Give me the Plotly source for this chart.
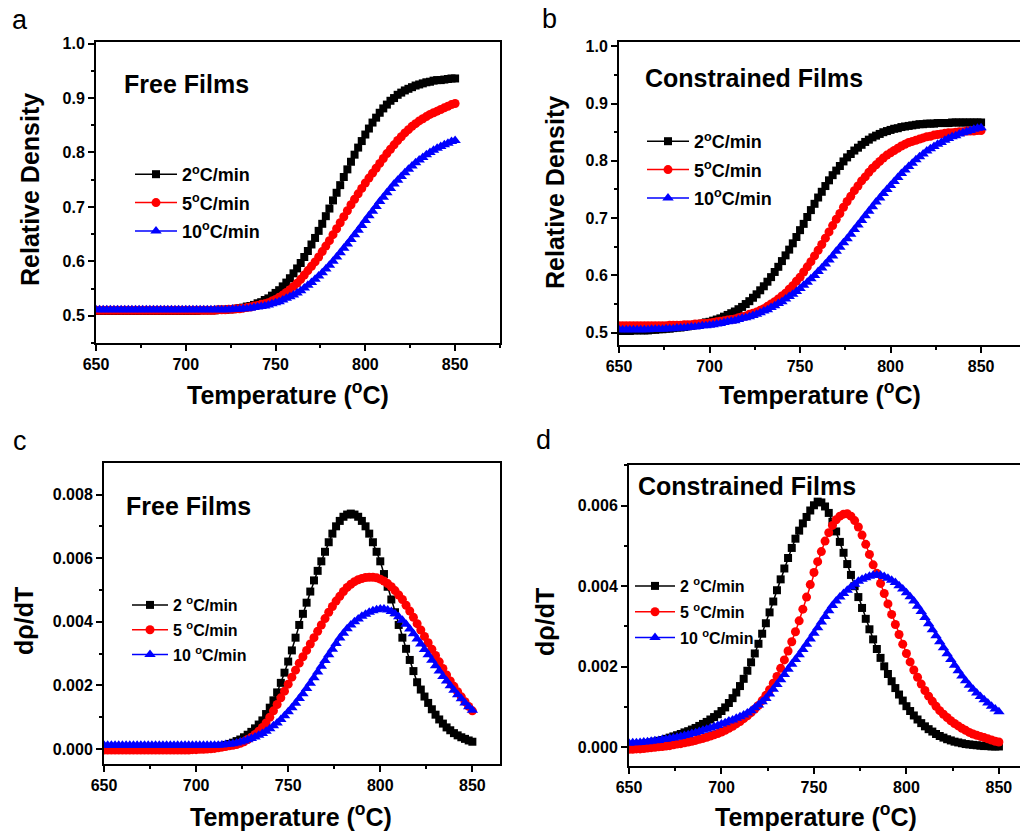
import plotly.graph_objects as go

# Temperature grid (degC), one sample every 2 degrees
TEMPS = list(range(650, 852, 2))

# (a) relative density, free films
A_FREE_2 = [
    0.509, 0.509, 0.509, 0.509, 0.509, 0.509, 0.509, 0.509, 0.509, 0.509,
    0.509, 0.509, 0.509, 0.509, 0.509, 0.509, 0.509, 0.509, 0.509, 0.509,
    0.509, 0.509, 0.509, 0.509, 0.509, 0.509, 0.509, 0.509, 0.509, 0.510,
    0.510, 0.510, 0.510, 0.510, 0.511, 0.511, 0.511, 0.512, 0.512, 0.513,
    0.514, 0.515, 0.517, 0.518, 0.520, 0.523, 0.525, 0.529, 0.532, 0.537,
    0.542, 0.547, 0.554, 0.561, 0.569, 0.578, 0.587, 0.597, 0.608, 0.619,
    0.631, 0.643, 0.656, 0.669, 0.683, 0.697, 0.712, 0.726, 0.740, 0.755,
    0.769, 0.783, 0.796, 0.809, 0.821, 0.833, 0.844, 0.855, 0.864, 0.873,
    0.881, 0.888, 0.895, 0.900, 0.906, 0.910, 0.914, 0.917, 0.920, 0.923,
    0.925, 0.927, 0.929, 0.930, 0.932, 0.933, 0.933, 0.934, 0.935, 0.936,
    0.936,
]
A_FREE_5 = [
    0.510, 0.510, 0.510, 0.510, 0.510, 0.510, 0.510, 0.510, 0.510, 0.510,
    0.510, 0.510, 0.510, 0.510, 0.510, 0.510, 0.510, 0.510, 0.510, 0.510,
    0.510, 0.510, 0.510, 0.510, 0.510, 0.510, 0.510, 0.510, 0.510, 0.510,
    0.510, 0.510, 0.510, 0.510, 0.511, 0.511, 0.511, 0.512, 0.512, 0.513,
    0.513, 0.514, 0.515, 0.516, 0.518, 0.519, 0.521, 0.522, 0.524, 0.527,
    0.530, 0.534, 0.538, 0.543, 0.548, 0.554, 0.560, 0.567, 0.575, 0.583,
    0.591, 0.599, 0.608, 0.618, 0.628, 0.638, 0.649, 0.660, 0.671, 0.682,
    0.693, 0.704, 0.714, 0.724, 0.734, 0.744, 0.753, 0.762, 0.771, 0.780,
    0.789, 0.798, 0.806, 0.814, 0.822, 0.829, 0.836, 0.842, 0.848, 0.853,
    0.858, 0.862, 0.866, 0.870, 0.873, 0.876, 0.879, 0.882, 0.885, 0.888,
    0.890,
]
A_FREE_10 = [
    0.511, 0.511, 0.511, 0.511, 0.511, 0.511, 0.511, 0.511, 0.511, 0.511,
    0.511, 0.511, 0.511, 0.511, 0.511, 0.511, 0.511, 0.511, 0.511, 0.511,
    0.511, 0.511, 0.511, 0.511, 0.511, 0.511, 0.511, 0.511, 0.511, 0.511,
    0.511, 0.511, 0.511, 0.511, 0.511, 0.511, 0.511, 0.511, 0.512, 0.512,
    0.512, 0.513, 0.513, 0.514, 0.515, 0.516, 0.517, 0.518, 0.520, 0.522,
    0.524, 0.526, 0.529, 0.532, 0.535, 0.538, 0.542, 0.546, 0.551, 0.556,
    0.561, 0.567, 0.573, 0.579, 0.586, 0.593, 0.600, 0.608, 0.616, 0.624,
    0.632, 0.640, 0.649, 0.657, 0.666, 0.675, 0.684, 0.692, 0.701, 0.710,
    0.718, 0.726, 0.734, 0.742, 0.749, 0.756, 0.763, 0.769, 0.775, 0.781,
    0.786, 0.791, 0.796, 0.800, 0.804, 0.808, 0.811, 0.814, 0.817, 0.820,
    0.822,
]

# (b) relative density, constrained films
B_CON_2 = [
    0.503, 0.503, 0.503, 0.503, 0.504, 0.504, 0.504, 0.504, 0.504, 0.505,
    0.505, 0.506, 0.506, 0.507, 0.507, 0.508, 0.509, 0.509, 0.510, 0.511,
    0.512, 0.514, 0.515, 0.516, 0.518, 0.519, 0.521, 0.523, 0.525, 0.528,
    0.531, 0.534, 0.537, 0.541, 0.545, 0.550, 0.555, 0.561, 0.567, 0.574,
    0.581, 0.589, 0.597, 0.606, 0.615, 0.625, 0.635, 0.645, 0.656, 0.667,
    0.679, 0.690, 0.702, 0.714, 0.725, 0.736, 0.746, 0.756, 0.766, 0.775,
    0.783, 0.791, 0.799, 0.806, 0.812, 0.818, 0.823, 0.828, 0.833, 0.837,
    0.841, 0.844, 0.847, 0.850, 0.852, 0.854, 0.856, 0.857, 0.859, 0.860,
    0.861, 0.862, 0.863, 0.864, 0.864, 0.865, 0.865, 0.865, 0.866, 0.866,
    0.866, 0.866, 0.867, 0.867, 0.867, 0.867, 0.867, 0.867, 0.867, 0.867,
    0.867,
]
B_CON_5 = [
    0.512, 0.512, 0.512, 0.512, 0.512, 0.512, 0.512, 0.512, 0.512, 0.512,
    0.512, 0.512, 0.512, 0.512, 0.513, 0.513, 0.513, 0.513, 0.514, 0.514,
    0.514, 0.515, 0.515, 0.516, 0.516, 0.517, 0.518, 0.519, 0.520, 0.521,
    0.522, 0.523, 0.524, 0.526, 0.528, 0.529, 0.532, 0.534, 0.536, 0.539,
    0.542, 0.546, 0.550, 0.554, 0.559, 0.564, 0.569, 0.576, 0.582, 0.590,
    0.597, 0.606, 0.615, 0.624, 0.634, 0.644, 0.654, 0.665, 0.676, 0.687,
    0.698, 0.708, 0.719, 0.729, 0.738, 0.748, 0.756, 0.765, 0.772, 0.780,
    0.787, 0.793, 0.799, 0.805, 0.810, 0.814, 0.818, 0.822, 0.826, 0.829,
    0.832, 0.834, 0.836, 0.838, 0.840, 0.842, 0.843, 0.845, 0.846, 0.847,
    0.848, 0.849, 0.849, 0.850, 0.851, 0.851, 0.852, 0.852, 0.852, 0.853,
    0.853,
]
B_CON_10 = [
    0.505, 0.505, 0.505, 0.505, 0.505, 0.505, 0.505, 0.505, 0.505, 0.506,
    0.506, 0.506, 0.506, 0.507, 0.507, 0.507, 0.508, 0.508, 0.508, 0.509,
    0.510, 0.510, 0.511, 0.512, 0.512, 0.513, 0.514, 0.515, 0.516, 0.518,
    0.519, 0.520, 0.521, 0.523, 0.525, 0.526, 0.528, 0.530, 0.532, 0.535,
    0.538, 0.540, 0.544, 0.547, 0.551, 0.554, 0.559, 0.563, 0.567, 0.572,
    0.577, 0.583, 0.588, 0.594, 0.600, 0.607, 0.613, 0.620, 0.627, 0.634,
    0.642, 0.649, 0.657, 0.664, 0.672, 0.680, 0.688, 0.696, 0.704, 0.712,
    0.720, 0.728, 0.735, 0.743, 0.750, 0.757, 0.764, 0.771, 0.778, 0.784,
    0.790, 0.796, 0.802, 0.807, 0.812, 0.817, 0.821, 0.825, 0.829, 0.832,
    0.836, 0.839, 0.842, 0.844, 0.847, 0.849, 0.851, 0.853, 0.855, 0.857,
    0.858,
]

# (c) densification rate, free films
C_FREE_2 = [
    0.0, 0.0, 0.0, 0.0, 0.0, 0.0, 0.0, 0.0, 0.0, 0.0,
    0.0, 0.0, 0.0, 0.0, 0.0, 0.0, 0.0, 0.0, 0.0, 0.0,
    0.0, 0.00001, 0.00001, 0.00001, 0.00002, 0.00002, 0.00002, 0.00003, 0.00004, 0.00005,
    0.00006, 0.00008, 0.0001, 0.00013, 0.00016, 0.0002, 0.00025, 0.0003, 0.00037, 0.00045,
    0.00054, 0.00065, 0.00077, 0.0009, 0.0011, 0.0013, 0.00153, 0.00178, 0.00208, 0.0024,
    0.00275, 0.0031, 0.0035, 0.0039, 0.00425, 0.0046, 0.00495, 0.0053, 0.0056, 0.0059,
    0.0062, 0.0065, 0.00677, 0.007, 0.00717, 0.0073, 0.00737, 0.0074, 0.00737, 0.0073,
    0.00717, 0.007, 0.00677, 0.0065, 0.0062, 0.0059, 0.0055, 0.0051, 0.0047, 0.0043,
    0.0039, 0.0035, 0.00315, 0.0028, 0.00245, 0.0021, 0.00187, 0.00165, 0.00145, 0.00125,
    0.00108, 0.00093, 0.0008, 0.00068, 0.00059, 0.0005, 0.00043, 0.00037, 0.00032, 0.00027,
    0.00023,
]
C_FREE_5 = [
    -0.00003, -0.00003, -0.00003, -0.00003, -0.00003, -0.00003, -0.00003, -0.00003, -0.00003, -0.00003,
    -0.00003, -0.00003, -0.00003, -0.00003, -0.00003, -0.00003, -0.00003, -0.00003, -0.00003, -0.00003,
    -0.00003, -0.00003, -0.00003, -0.00003, -0.00002, -0.00002, -0.00001, -0.00001, 0.0, 0.00001,
    0.00002, 0.00004, 0.00006, 0.00008, 0.0001, 0.00012, 0.00014, 0.00018, 0.00023, 0.0003,
    0.00037, 0.00046, 0.00056, 0.00068, 0.00082, 0.001, 0.0012, 0.0014, 0.00161, 0.00182,
    0.00204, 0.00226, 0.00248, 0.0027, 0.0029, 0.0031, 0.0033, 0.0035, 0.0037, 0.0039,
    0.0041, 0.0043, 0.00448, 0.00465, 0.0048, 0.00495, 0.00508, 0.00518, 0.00526, 0.00532,
    0.00536, 0.00539, 0.0054, 0.0054, 0.00538, 0.00534, 0.00528, 0.0052, 0.0051, 0.00498,
    0.00484, 0.0047, 0.00452, 0.00434, 0.00414, 0.00394, 0.00374, 0.00354, 0.00334, 0.00314,
    0.00294, 0.00274, 0.00253, 0.00233, 0.00214, 0.00197, 0.0018, 0.00164, 0.00149, 0.00134,
    0.0012,
]
C_FREE_10 = [
    0.00012, 0.00012, 0.00012, 0.00012, 0.00012, 0.00012, 0.00012, 0.00012, 0.00012, 0.00012,
    0.00012, 0.00012, 0.00012, 0.00012, 0.00012, 0.00012, 0.00012, 0.00012, 0.00012, 0.00012,
    0.00012, 0.00012, 0.00012, 0.00012, 0.00012, 0.00012, 0.00012, 0.00012, 0.00012, 0.00012,
    0.00012, 0.00012, 0.00013, 0.00014, 0.00015, 0.00017, 0.00019, 0.00022, 0.00025, 0.00029,
    0.00033, 0.00038, 0.00043, 0.00049, 0.00056, 0.00064, 0.00073, 0.00082, 0.00093, 0.00105,
    0.00117, 0.0013, 0.00144, 0.00159, 0.00174, 0.0019, 0.00207, 0.00224, 0.00242, 0.0026,
    0.00278, 0.00296, 0.00314, 0.00332, 0.00349, 0.00364, 0.00378, 0.0039, 0.004, 0.00409,
    0.00417, 0.00424, 0.0043, 0.00435, 0.00438, 0.0044, 0.0044, 0.00437, 0.00432, 0.00425,
    0.00416, 0.00405, 0.00392, 0.00377, 0.00362, 0.00346, 0.0033, 0.00313, 0.00296, 0.00279,
    0.00262, 0.00245, 0.00228, 0.00214, 0.00199, 0.00185, 0.00171, 0.00158, 0.00145, 0.00133,
    0.00122,
]

# (d) densification rate, constrained films
D_CON_2 = [
    0.00005, 0.00006, 0.00007, 0.00008, 0.00009, 0.0001, 0.00012, 0.00014, 0.00016, 0.00018,
    0.00021, 0.00024, 0.00027, 0.0003, 0.00033, 0.00037, 0.0004, 0.00044, 0.00048, 0.00053,
    0.00058, 0.00063, 0.00069, 0.00075, 0.00082, 0.0009, 0.00099, 0.0011, 0.00122, 0.00136,
    0.00152, 0.0017, 0.0019, 0.00211, 0.00233, 0.00257, 0.00282, 0.00308, 0.00335, 0.00362,
    0.0039, 0.00417, 0.00444, 0.0047, 0.00495, 0.00518, 0.00538, 0.00556, 0.00572, 0.00588,
    0.00601, 0.0061, 0.00608, 0.00598, 0.00582, 0.0056, 0.00536, 0.0051, 0.00483, 0.00455,
    0.00428, 0.004, 0.00373, 0.00346, 0.00319, 0.00293, 0.00268, 0.00244, 0.00222, 0.00201,
    0.00182, 0.00164, 0.00147, 0.00131, 0.00116, 0.00102, 0.0009, 0.00079, 0.00069, 0.0006,
    0.00052, 0.00045, 0.00039, 0.00033, 0.00028, 0.00024, 0.0002, 0.00017, 0.00014, 0.00012,
    0.0001, 0.00008, 0.00007, 0.00006, 0.00005, 0.00004, 0.00003, 0.00003, 0.00002, 0.00002,
    0.00002,
]
D_CON_5 = [
    -0.00005, -0.00005, -0.00004, -0.00004, -0.00003, -0.00002, -0.00001, 0.0, 0.00001, 0.00002,
    0.00003, 0.00004, 0.00006, 0.00008, 0.00009, 0.00011, 0.00013, 0.00015, 0.00017, 0.0002,
    0.00022, 0.00025, 0.00028, 0.00031, 0.00034, 0.00038, 0.00042, 0.00047, 0.00052, 0.00058,
    0.00064, 0.00071, 0.00078, 0.00086, 0.00095, 0.00104, 0.00116, 0.00129, 0.00143, 0.00159,
    0.00176, 0.00196, 0.00217, 0.00239, 0.00262, 0.00287, 0.00314, 0.00343, 0.00373, 0.00404,
    0.00434, 0.00461, 0.00486, 0.00512, 0.00533, 0.00551, 0.00565, 0.00574, 0.00579, 0.0058,
    0.00574, 0.00563, 0.00547, 0.00527, 0.00504, 0.00479, 0.00453, 0.00432, 0.00407, 0.00382,
    0.00356, 0.0033, 0.00305, 0.0028, 0.00256, 0.00233, 0.00212, 0.00192, 0.00174, 0.00157,
    0.00141, 0.00127, 0.00114, 0.00102, 0.00091, 0.00082, 0.00074, 0.00066, 0.00059, 0.00053,
    0.00047, 0.00042, 0.00037, 0.00033, 0.0003, 0.00027, 0.00024, 0.00021, 0.00018, 0.00015,
    0.00013,
]
D_CON_10 = [
    0.0001, 0.00011, 0.00011, 0.00012, 0.00013, 0.00014, 0.00015, 0.00016, 0.00017, 0.00019,
    0.0002, 0.00022, 0.00023, 0.00025, 0.00027, 0.00029, 0.00031, 0.00034, 0.00036, 0.00039,
    0.00042, 0.00045, 0.00048, 0.00051, 0.00054, 0.00058, 0.00061, 0.00065, 0.00068, 0.00072,
    0.00076, 0.0008, 0.00085, 0.00091, 0.00098, 0.00105, 0.00113, 0.00121, 0.00132, 0.00144,
    0.00156, 0.00168, 0.00181, 0.00194, 0.00206, 0.00218, 0.0023, 0.00243, 0.00256, 0.00269,
    0.00283, 0.00297, 0.00311, 0.00325, 0.00339, 0.00352, 0.00363, 0.00373, 0.00382, 0.0039,
    0.00398, 0.00405, 0.00412, 0.00417, 0.00421, 0.00425, 0.00427, 0.00428, 0.00427, 0.00424,
    0.0042, 0.00415, 0.00409, 0.00401, 0.00393, 0.00384, 0.00374, 0.00363, 0.0035, 0.00337,
    0.00322, 0.00307, 0.00292, 0.00277, 0.00262, 0.00247, 0.00232, 0.00218, 0.00204, 0.0019,
    0.00177, 0.00165, 0.00154, 0.00144, 0.00135, 0.00126, 0.00118, 0.0011, 0.00102, 0.00095,
    0.00088,
]

RATE_LABELS_TOP = ["2<sup>o</sup>C/min", "5<sup>o</sup>C/min", "10<sup>o</sup>C/min"]
RATE_LABELS_BOTTOM = ["2 <sup>o</sup>C/min", "5 <sup>o</sup>C/min", "10 <sup>o</sup>C/min"]

FONT = "Liberation Sans, Arial, Helvetica, sans-serif"
W, H = 1020, 835

# colour, marker symbol, marker size for the 2, 5 and 10 degC/min runs
STYLES = [("#000000", "square", 8), ("#ff0000", "circle", 9), ("#0000ff", "triangle-up", 10)]

PANELS = [
    dict(xa="x", ya="y", legend="legend", series=[A_FREE_2, A_FREE_5, A_FREE_10], names=RATE_LABELS_TOP),
    dict(xa="x2", ya="y2", legend="legend2", series=[B_CON_2, B_CON_5, B_CON_10], names=RATE_LABELS_TOP),
    dict(xa="x3", ya="y3", legend="legend3", series=[C_FREE_2, C_FREE_5, C_FREE_10], names=RATE_LABELS_BOTTOM),
    dict(xa="x4", ya="y4", legend="legend4", series=[D_CON_2, D_CON_5, D_CON_10], names=RATE_LABELS_BOTTOM),
]

fig = go.Figure()
for p_i, panel in enumerate(PANELS):
    for s_i, (values, name) in enumerate(zip(panel["series"], panel["names"])):
        color, symbol, size = STYLES[s_i]
        fig.add_trace(go.Scatter(
            x=TEMPS, y=values, name=name, mode="lines+markers",
            line=dict(color=color, width=1.5),
            marker=dict(symbol=symbol, size=size, color=color, line=dict(width=0)),
            xaxis=panel["xa"], yaxis=panel["ya"], legend=panel["legend"],
            legendgroup=f"p{p_i}s{s_i}",
        ))


def px_x(v):
    return v / W


def px_y(v):
    return 1 - v / H


tick_font = dict(family=FONT, size=16, color="black", weight="bold")


def x_axis(x0, x1, rng, anchor):
    return dict(
        domain=[px_x(x0), min(1.0, px_x(x1))], range=rng, anchor=anchor,
        tick0=650, dtick=50, ticks="outside", ticklen=6, tickwidth=1.5, tickcolor="black",
        minor=dict(ticks="outside", ticklen=3, tickwidth=1.5, tickcolor="black", dtick=25, tick0=650),
        showline=True, linewidth=2, linecolor="black", mirror=True,
        showgrid=False, zeroline=False, tickfont=tick_font, automargin=False,
    )


def y_axis(y0, y1, rng, anchor, dtick, minor_dtick, fmt, mirror):
    return dict(
        domain=[px_y(y1), px_y(y0)], range=rng, anchor=anchor,
        dtick=dtick, tick0=0, tickformat=fmt, ticks="outside", ticklen=6, tickwidth=1.5,
        tickcolor="black",
        minor=dict(ticks="outside", ticklen=3, tickwidth=1.5, tickcolor="black", dtick=minor_dtick, tick0=0),
        showline=True, linewidth=2, linecolor="black", mirror=mirror,
        showgrid=False, zeroline=False, tickfont=tick_font, automargin=False,
    )


def legend_box(x, y, size, gap, itemwidth):
    return dict(
        x=px_x(x), y=px_y(y), xref="paper", yref="paper", xanchor="left", yanchor="top",
        bgcolor="rgba(0,0,0,0)", borderwidth=0, itemwidth=itemwidth,
        tracegroupgap=gap, font=dict(family=FONT, size=size, color="black", weight="bold"),
    )


annotations = []


def label(text, x, y, size, bold=True, angle=0):
    annotations.append(dict(
        text=f"<b>{text}</b>" if bold else text, x=px_x(x), y=px_y(y), xref="paper", yref="paper",
        showarrow=False, xanchor="center", yanchor="middle", textangle=angle,
        font=dict(family=FONT, size=size, color="black"),
    ))


# panel letters
label("a", 20, 20, 27, bold=False)
label("b", 549, 19, 27, bold=False)
label("c", 20, 441, 27, bold=False)
label("d", 543, 440, 27, bold=False)

# panel headings
label("Free Films", 186, 84, 25)
label("Constrained Films", 754, 78, 25)
label("Free Films", 188, 506, 25)
label("Constrained Films", 747, 486, 25)

# axis titles
label("Temperature (<sup>o</sup>C)", 288, 393, 25)
label("Temperature (<sup>o</sup>C)", 820, 393, 25)
label("Temperature (<sup>o</sup>C)", 291, 815, 25)
label("Temperature (<sup>o</sup>C)", 816, 815, 25)
label("Relative Density", 30, 190, 25, angle=-90)
label("Relative Density", 555, 193, 25, angle=-90)
label("d\u03c1/dT", 24, 621, 25, angle=-90)
label("d\u03c1/dT", 545, 622, 25, angle=-90)

fig.update_layout(
    width=W, height=H, margin=dict(l=0, r=0, t=0, b=0),
    paper_bgcolor="white", plot_bgcolor="white",
    font=dict(family=FONT, color="black"),
    showlegend=True,
    xaxis=x_axis(96, 500, [650, 875], "y"),
    yaxis=y_axis(42, 343, [0.45, 1.003], "x", 0.1, 0.05, ".1f", True),
    xaxis2=x_axis(619, 1020, [650, 871.5], "y2"),
    yaxis2=y_axis(42, 345, [0.4785, 1.0075], "x2", 0.1, 0.05, ".1f", False),
    xaxis3=x_axis(104, 500, [650, 865], "y3"),
    yaxis3=y_axis(463, 764, [-0.00047, 0.00899], "x3", 0.002, 0.001, ".3f", True),
    xaxis4=x_axis(629, 1020, [650, 861.4], "y4"),
    yaxis4=y_axis(465, 766, [-0.000465, 0.00701], "x4", 0.002, 0.001, ".3f", False),
    legend=legend_box(130, 156, 18, 2, 42),
    legend2=legend_box(642, 123, 18, 2, 42),
    legend3=legend_box(127, 588, 16, 1, 36),
    legend4=legend_box(630, 569, 16, 2, 40),
    annotations=annotations,
)

fig.write_html("out.html")
